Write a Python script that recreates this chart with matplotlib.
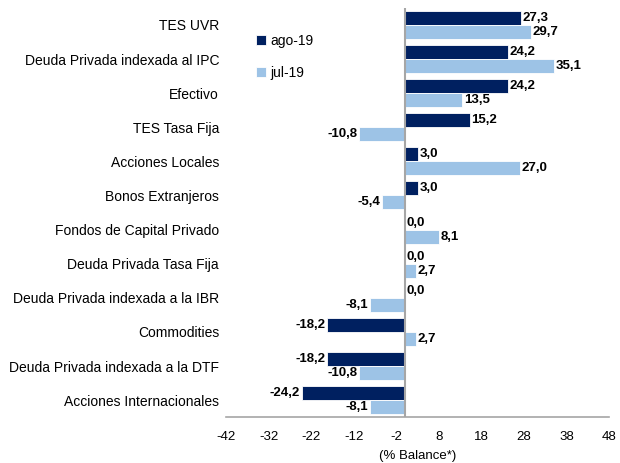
import matplotlib
matplotlib.use("Agg")
import matplotlib.pyplot as plt
import numpy as np
from matplotlib import font_manager

names = {f.name for f in font_manager.fontManager.ttflist}
fam = ['Liberation Sans Narrow'] if 'Liberation Sans Narrow' in names else ['Liberation Sans']
plt.rcParams['font.family'] = fam + ['DejaVu Sans']

categories = ["TES UVR", "Deuda Privada indexada al IPC", "Efectivo", "TES Tasa Fija",
              "Acciones Locales", "Bonos Extranjeros", "Fondos de Capital Privado",
              "Deuda Privada Tasa Fija", "Deuda Privada indexada a la IBR", "Commodities",
              "Deuda Privada indexada a la DTF", "Acciones Internacionales"]
ago19 = [27.3, 24.2, 24.2, 15.2, 3.0, 3.0, 0.0, 0.0, 0.0, -18.2, -18.2, -24.2]
jul19 = [29.7, 35.1, 13.5, -10.8, 27.0, -5.4, 8.1, 2.7, -8.1, 2.7, -10.8, -8.1]
series_names = ["ago-19", "jul-19"]
xticks = list(range(-42, 49, 10))

dark = "#002060"
light = "#9DC3E6"

fig = plt.figure(figsize=(6.2, 4.63), dpi=100)
ax = fig.add_axes([0.3645, 0.099, 0.618, 0.884])

y = np.arange(len(categories))
h = 0.41
b1 = ax.barh(y - h/2, ago19, height=h, color=dark, edgecolor="white", linewidth=0.6, label=series_names[0])
b2 = ax.barh(y + h/2, jul19, height=h, color=light, edgecolor="white", linewidth=0.6, label=series_names[1])

def fmt(v):
    return f"{v:.1f}".replace(".", ",")

for bars, vals in ((b1, ago19), (b2, jul19)):
    for rect, v in zip(bars, vals):
        yc = rect.get_y() + rect.get_height()/2
        if v >= 0:
            ax.text(v + 0.4, yc, fmt(v), ha="left", va="center", fontsize=9.5, fontweight="bold")
        else:
            ax.text(v - 0.4, yc, fmt(v), ha="right", va="center", fontsize=9.5, fontweight="bold")

ax.set_xlim(-42, 48)
ax.set_ylim(len(categories) - 0.5, -0.5)
ax.set_xticks(xticks)
ax.set_xticklabels([str(t) for t in xticks], fontsize=9.5)
ax.set_yticks(y)
ax.set_yticklabels(categories, fontsize=10)
ax.tick_params(axis="both", length=0)
ax.tick_params(axis="x", pad=10)
ax.tick_params(axis="y", pad=5)
for s in ["top", "right", "left"]:
    ax.spines[s].set_visible(False)
ax.spines["bottom"].set_color("#A6A6A6")
ax.spines["bottom"].set_linewidth(1.2)
ax.axvline(0, color="#A6A6A6", linewidth=1.5, zorder=3)
ax.set_xlabel("(% Balance*)", fontsize=9.5, labelpad=5)

leg = ax.legend(loc="upper left", bbox_to_anchor=(0.065, 0.95), frameon=False, fontsize=10,
                handlelength=0.7, handleheight=0.7, handletextpad=0.3, labelspacing=1.3,
                borderaxespad=0)

fig.savefig("out.png", dpi=100)
